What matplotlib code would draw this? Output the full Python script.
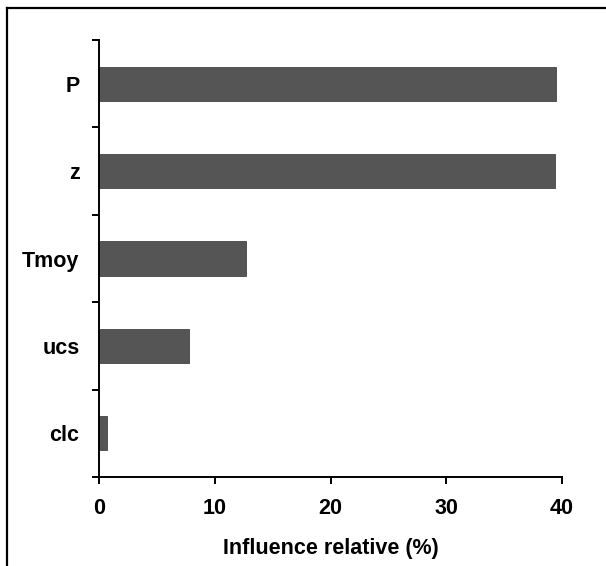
import numpy as np
import matplotlib
matplotlib.use("Agg")
import matplotlib.pyplot as plt
from matplotlib.lines import Line2D

# data
categories = ["P", "z", "Tmoy", "ucs", "clc"]
influence = [39.5, 39.4, 12.7, 7.8, 0.7]
xticks = [0, 10, 20, 30, 40]
xlabel = "Influence relative (%)"

plt.rcParams['font.family'] = ['Liberation Sans', 'DejaVu Sans']
plt.rcParams['font.weight'] = 'bold'

fig = plt.figure(figsize=(6.06, 5.66), dpi=100)
ax = fig.add_axes([99/606, 1 - 477/566, (562 - 99)/606, (477 - 40)/566])

ypos = np.arange(len(categories))
ax.barh(ypos, influence, height=0.39, color='#555555', edgecolor='#444444', linewidth=0.6)

ax.set_xlim(0, 40)
ax.set_ylim(len(categories) - 0.5, -0.5)

ax.set_xticks(xticks)
ax.set_xticklabels([str(t) for t in xticks], fontsize=15.5, fontweight='bold')
ax.tick_params(axis='x', direction='out', length=5, width=1.4, pad=10)

# category labels at centres, tick marks at the boundaries (excel style)
ax.set_yticks(ypos)
ax.set_yticklabels(categories, fontsize=15.5, fontweight='bold')
ax.set_yticks(np.arange(-0.5, len(categories), 1), minor=True)
ax.tick_params(axis='y', which='major', length=0, pad=14)
ax.tick_params(axis='y', which='minor', direction='out', length=5, width=1.4)

ax.set_xlabel(xlabel, fontsize=15.5, fontweight='bold', labelpad=14)

for s in ['top', 'right']:
    ax.spines[s].set_visible(False)
for s in ['left', 'bottom']:
    ax.spines[s].set_linewidth(1.4)

# the cropped frame round the figure (only top and left edges are in view)
ytop = 1 - 7.5/566
xleft = 6.5/606
fig.add_artist(Line2D([xleft, 1], [ytop, ytop], color='black', lw=1.6, transform=fig.transFigure))
fig.add_artist(Line2D([xleft, xleft], [0, ytop], color='black', lw=1.6, transform=fig.transFigure))

fig.savefig("out.png", dpi=100)
